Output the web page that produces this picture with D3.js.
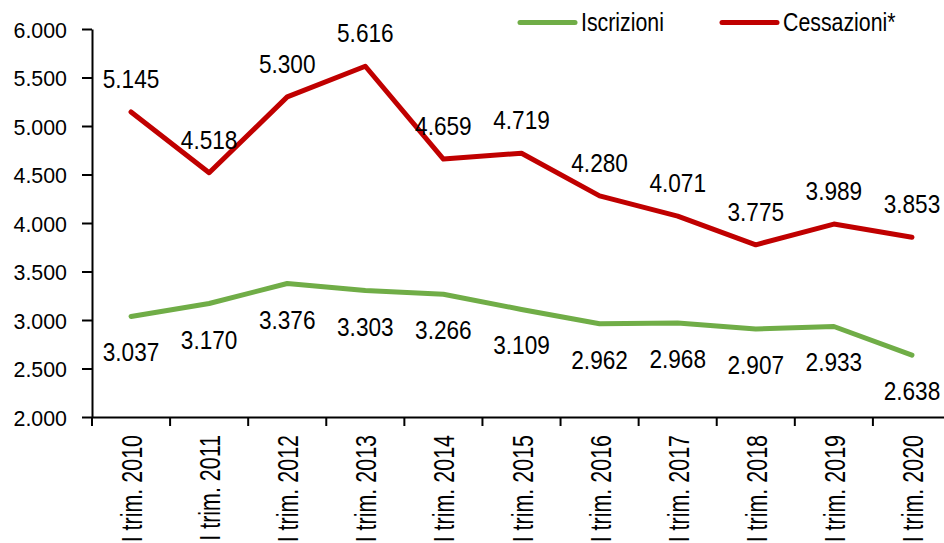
<!DOCTYPE html>
<html><head><meta charset="utf-8">
<script src="https://cdn.jsdelivr.net/npm/d3@7/dist/d3.min.js"></script>
<style>
body{margin:0;background:#fff;}
text{font-family:"Liberation Sans",Arial,sans-serif;fill:#000;}
</style></head>
<body><svg id="c" width="944" height="543"></svg>
<script>
const categories = ["I trim. 2010","I trim. 2011","I trim. 2012","I trim. 2013","I trim. 2014","I trim. 2015","I trim. 2016","I trim. 2017","I trim. 2018","I trim. 2019","I trim. 2020"];
const iscrizioni = [3037,3170,3376,3303,3266,3109,2962,2968,2907,2933,2638];
const cessazioni = [5145,4518,5300,5616,4659,4719,4280,4071,3775,3989,3853];
const yTicks = [2000,2500,3000,3500,4000,4500,5000,5500,6000];
const seriesNames = ["Iscrizioni","Cessazioni*"];
const colors = ["#70AD47","#C00000"];

(function(){
const svg = d3.select("#c");
const mLeft = 92, mRight = 951, mTop = 29, mBottom = 417;
const x = d3.scaleBand().domain(categories).range([mLeft, mRight]);
const y = d3.scaleLinear().domain([2000, 6000]).range([mBottom, mTop]);
const fmt = v => d3.format(",")(v).replace(/,/g, ".");

// y axis
const ya = svg.append("g").attr("transform", `translate(${mLeft},0)`)
  .call(d3.axisLeft(y).tickValues(yTicks).tickFormat(fmt).tickSize(10).tickSizeOuter(0));
ya.select(".domain").attr("stroke", "#000").attr("stroke-width", 2);
ya.selectAll(".tick line").attr("stroke", "#000").attr("stroke-width", 2);
ya.selectAll(".tick text").attr("font-size", 23).attr("x", 0).attr("dy", "0.36em")
  .attr("transform", "translate(-25,0) scale(0.93,1)")
  .style("font-family", "Liberation Sans, Arial, sans-serif").attr("fill", "#000");

// x axis
const xa = svg.append("g").attr("transform", `translate(0,${mBottom})`)
  .call(d3.axisBottom(x).tickSize(0).tickSizeOuter(0));
xa.select(".domain").attr("stroke", "#000").attr("stroke-width", 2);
xa.selectAll(".tick line").remove();
xa.selectAll(".tick text").attr("font-size", 29)
  .style("font-family", "Liberation Sans, Arial, sans-serif").attr("fill", "#000")
  .attr("x", 0).attr("y", 0).attr("dy", 0).attr("text-anchor", "end")
  .attr("transform", "translate(11,18) rotate(-90) scale(0.74,1)");
// boundary ticks
const bounds = categories.map(c => x(c)).concat([x(categories[categories.length-1]) + x.bandwidth()]);
svg.append("g").selectAll("line").data(bounds).join("line")
  .attr("x1", d => d).attr("x2", d => d).attr("y1", mBottom).attr("y2", mBottom + 9)
  .attr("stroke", "#000").attr("stroke-width", 2);

const cx = c => x(c) + x.bandwidth() / 2;
const line = d3.line().x((d, i) => cx(categories[i])).y(d => y(d));

[iscrizioni, cessazioni].forEach((arr, k) => {
  svg.append("path").datum(arr).attr("d", line).attr("fill", "none")
    .attr("stroke", colors[k]).attr("stroke-width", 5)
    .attr("stroke-linejoin", "round").attr("stroke-linecap", "round");
});

// labels
const lblScale = 0.87, lblSize = 26;
svg.append("g").selectAll("text").data(cessazioni).join("text")
  .attr("transform", (d, i) => `translate(${cx(categories[i])},${y(d) - 24}) scale(${lblScale},1)`)
  .attr("text-anchor", "middle").attr("font-size", lblSize).text(d => fmt(d));
svg.append("g").selectAll("text").data(iscrizioni).join("text")
  .attr("transform", (d, i) => `translate(${cx(categories[i])},${y(d) + 45}) scale(${lblScale},1)`)
  .attr("text-anchor", "middle").attr("font-size", lblSize).text(d => fmt(d));

// legend
const legendX = [520, 722];
seriesNames.forEach((n, k) => {
  const g = svg.append("g");
  g.append("line").attr("x1", legendX[k]).attr("x2", legendX[k] + 55).attr("y1", 22.5).attr("y2", 22.5)
    .attr("stroke", colors[k]).attr("stroke-width", 5).attr("stroke-linecap", "round");
  g.append("text").attr("transform", `translate(${legendX[k] + 61},31) scale(0.82,1)`)
    .attr("font-size", 26).text(n);
});
})();
</script></body></html>
